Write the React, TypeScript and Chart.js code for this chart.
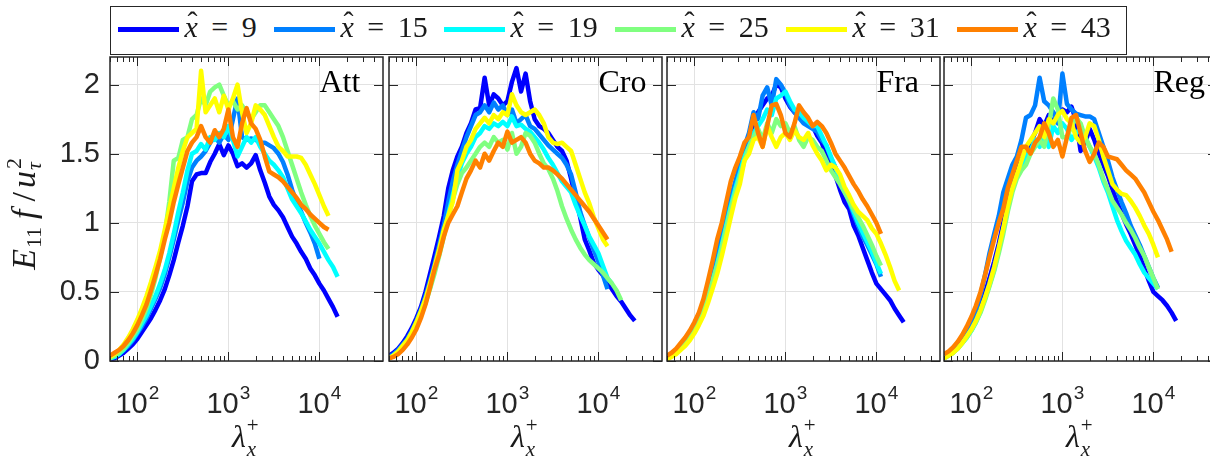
import React, { useEffect, useRef } from 'react';
import { Chart, registerables } from 'chart.js';
Chart.register(...registerables);

// ---------------- data ----------------
// common lambda_x^+ sampling grid (0.05 decade steps, 10^1.70 ... 10^4.40)
const LAMBDA = [50.1, 56.2, 63.1, 70.8, 79.4, 89.1, 100, 112, 126, 141, 158, 178, 200, 224, 251, 282, 316, 355, 398, 447, 501, 562, 631, 708, 794, 891, 1000, 1122, 1259, 1413, 1585, 1778, 1995, 2239, 2512, 2818, 3162, 3548, 3981, 4467, 5012, 5623, 6310, 7079, 7943, 8913, 10000, 11220, 12589, 14125, 15849, 17783, 19953, 22387, 25119];

const SERIES_LABELS = ['9', '15', '19', '25', '31', '43'];
const SERIES_COLORS = ['#0000ff', '#0080ff', '#00ffff', '#80ff80', '#ffff00', '#ff8000'];
const PANEL_NAMES = ['Att', 'Cro', 'Fra', 'Reg'];
const Y_TICKS = [0, 0.5, 1, 1.5, 2];
const Y_TICK_LABELS = ['0', '0.5', '1', '1.5', '2'];
const X_MAJOR = [100, 1000, 10000];
const X_TICK_EXP = ['2', '3', '4'];

// Att
const ATT_9 = [0.01,0.02,0.04,0.06,0.09,0.12,0.16,0.21,0.26,0.31, 0.37,0.44,0.52,0.62,0.73,0.86,0.98,1.12,1.30,1.35, 1.36,1.36,1.44,1.50,1.57,1.49,1.56,1.50,1.41,1.43, 1.40,1.43,1.49,1.38,1.29,1.19,1.13,1.09,1.04,0.97, 0.90,0.85,0.79,0.74,0.67,0.62,0.56,0.51,0.45,0.39, 0.32];
const ATT_15 = [0.02,0.03,0.05,0.08,0.11,0.15,0.20,0.25,0.31,0.38, 0.45,0.53,0.63,0.75,0.88,1.02,1.15,1.30,1.40,1.45, 1.48,1.52,1.58,1.62,1.58,1.64,1.60,1.75,1.90,1.62, 1.60,1.61,1.60,1.58,1.58,1.56,1.54,1.50,1.44,1.35, 1.24,1.15,1.08,1.00,0.93,0.85,0.74];
const ATT_19 = [0.02,0.03,0.05,0.08,0.12,0.16,0.21,0.27,0.33,0.40, 0.47,0.56,0.66,0.78,0.92,1.08,1.22,1.38,1.50,1.52, 1.57,1.53,1.62,1.60,1.65,1.62,1.70,1.60,1.48,1.55, 1.62,1.58,1.62,1.55,1.50,1.45,1.42,1.38,1.33,1.25, 1.17,1.12,1.07,1.01,0.95,0.90,0.85,0.79,0.73,0.68, 0.61];
const ATT_25 = [0.02,0.04,0.06,0.09,0.13,0.18,0.23,0.30,0.38,0.48, 0.60,0.75,0.92,1.15,1.45,1.47,1.60,1.62,1.75,1.78, 1.90,1.85,1.95,1.98,2.00,1.92,1.85,1.88,1.82,1.85, 1.80,1.75,1.80,1.85,1.85,1.80,1.75,1.70,1.62,1.52, 1.42,1.32,1.22,1.13,1.05,0.98,0.92,0.86,0.81];
const ATT_31 = [0.03,0.05,0.08,0.12,0.17,0.23,0.30,0.38,0.47,0.57, 0.68,0.80,0.95,1.10,1.25,1.40,1.52,1.62,1.65,1.68, 2.10,1.80,1.85,1.90,1.80,1.92,1.82,1.90,2.00,1.80, 1.65,1.72,1.85,1.82,1.78,1.70,1.62,1.55,1.52,1.48, 1.48,1.48,1.47,1.42,1.35,1.28,1.20,1.12,1.05];
const ATT_43 = [0.04,0.06,0.08,0.11,0.15,0.20,0.26,0.33,0.41,0.51, 0.62,0.74,0.88,1.00,1.15,1.28,1.40,1.52,1.58,1.62, 1.70,1.62,1.58,1.67,1.62,1.68,1.82,1.62,1.55,1.72, 1.83,1.72,1.68,1.60,1.48,1.37,1.35,1.33,1.30,1.26, 1.22,1.18,1.13,1.10,1.06,1.03,1.00,0.97,0.95];

// Cro
const CRO_9 = [0.04,0.06,0.09,0.13,0.18,0.24,0.31,0.39,0.50,0.63, 0.76,0.90,1.05,1.25,1.38,1.48,1.55,1.65,1.72,1.82, 1.83,2.05,1.85,1.93,1.90,1.85,1.88,2.02,2.12,1.95, 2.08,1.88,1.75,1.70,1.68,1.65,1.60,1.55,1.52,1.45, 1.32,1.18,1.04,0.88,0.80,0.71,0.66,0.62,0.57,0.52, 0.47,0.43,0.38,0.33,0.29];
const CRO_15 = [0.03,0.05,0.08,0.12,0.16,0.22,0.29,0.37,0.47,0.58, 0.70,0.84,0.98,1.15,1.30,1.42,1.52,1.62,1.70,1.78, 1.80,1.85,1.80,1.87,1.82,1.85,1.78,1.82,1.72,1.75, 1.78,1.70,1.68,1.64,1.60,1.56,1.53,1.50,1.47,1.42, 1.35,1.22,1.08,0.98,0.89,0.80,0.72,0.62,0.52];
const CRO_19 = [0.02,0.04,0.07,0.10,0.15,0.20,0.27,0.34,0.43,0.53, 0.65,0.78,0.92,1.06,1.20,1.33,1.43,1.50,1.55,1.62, 1.65,1.70,1.68,1.72,1.70,1.73,1.70,1.77,1.70,1.71, 1.68,1.66,1.62,1.58,1.53,1.47,1.42,1.36,1.30,1.26, 1.22,1.13,1.05,0.98,0.90,0.84,0.78,0.69,0.60,0.56];
const CRO_25 = [0.02,0.04,0.06,0.09,0.14,0.19,0.26,0.33,0.42,0.52, 0.63,0.76,0.90,1.04,1.17,1.28,1.36,1.40,1.45,1.50, 1.55,1.58,1.55,1.62,1.58,1.60,1.53,1.65,1.50,1.55, 1.65,1.63,1.58,1.50,1.43,1.39,1.32,1.23,1.12,1.03, 0.95,0.88,0.82,0.77,0.73,0.70,0.67,0.64,0.60,0.56, 0.51,0.44];
const CRO_31 = [0.02,0.04,0.07,0.11,0.15,0.21,0.28,0.36,0.45,0.56, 0.68,0.81,0.95,1.05,1.15,1.38,1.45,1.55,1.60,1.68, 1.72,1.76,1.72,1.78,1.75,1.80,1.78,1.93,1.85,1.80, 1.78,1.80,1.82,1.78,1.72,1.62,1.58,1.57,1.58,1.55, 1.52,1.42,1.32,1.22,1.14,1.04,0.96,0.88,0.83];
const CRO_43 = [0.02,0.03,0.05,0.08,0.12,0.17,0.23,0.31,0.41,0.53, 0.66,0.77,0.90,1.00,1.06,1.12,1.22,1.32,1.38,1.45, 1.40,1.50,1.45,1.52,1.58,1.55,1.66,1.58,1.60,1.62, 1.58,1.50,1.45,1.43,1.40,1.40,1.38,1.35,1.32,1.28, 1.24,1.20,1.16,1.12,1.08,1.03,0.98,0.93,0.88];

// Fra
const FRA_9 = [0.03,0.05,0.08,0.11,0.15,0.20,0.26,0.32,0.40,0.49, 0.60,0.72,0.85,1.00,1.12,1.25,1.38,1.50,1.60,1.72, 1.80,1.85,1.90,1.92,2.00,1.98,1.90,1.84,1.80,1.77, 1.74,1.72,1.70,1.63,1.58,1.49,1.40,1.34,1.24,1.15, 1.10,0.98,0.91,0.82,0.73,0.64,0.56,0.52,0.48,0.44, 0.38,0.33,0.28];
const FRA_15 = [0.03,0.05,0.08,0.12,0.16,0.21,0.27,0.34,0.42,0.52, 0.63,0.76,0.90,1.05,1.18,1.30,1.42,1.55,1.65,1.80, 1.75,1.92,1.98,1.85,2.04,2.00,1.94,1.85,1.80,1.76, 1.72,1.70,1.68,1.66,1.60,1.56,1.47,1.40,1.31,1.23, 1.15,1.06,0.98,0.90,0.84,0.77,0.70,0.61];
const FRA_19 = [0.02,0.04,0.07,0.10,0.14,0.19,0.25,0.31,0.39,0.48, 0.58,0.70,0.84,0.98,1.12,1.25,1.36,1.48,1.55,1.65, 1.70,1.75,1.82,1.78,1.90,1.92,1.95,1.88,1.82,1.80, 1.76,1.73,1.70,1.70,1.63,1.56,1.48,1.40,1.32,1.24, 1.16,1.08,1.00,0.93,0.86,0.79,0.71,0.63];
const FRA_25 = [0.02,0.04,0.07,0.10,0.14,0.19,0.24,0.30,0.38,0.47, 0.57,0.69,0.82,0.96,1.10,1.22,1.33,1.45,1.55,1.62, 1.68,1.60,1.72,1.65,1.75,1.70,1.72,1.65,1.70,1.60, 1.55,1.62,1.60,1.55,1.52,1.45,1.38,1.33,1.28,1.22, 1.16,1.10,1.04,0.98,0.91,0.84,0.76,0.69];
const FRA_31 = [0.01,0.03,0.05,0.08,0.11,0.15,0.20,0.26,0.33,0.42, 0.52,0.63,0.76,0.90,1.04,1.18,1.28,1.45,1.50,1.60, 1.62,1.55,1.70,1.62,1.55,1.62,1.65,1.60,1.67,1.62, 1.60,1.65,1.56,1.50,1.45,1.38,1.42,1.40,1.35,1.26, 1.20,1.13,1.08,1.05,1.02,0.96,0.92,0.85,0.77,0.68, 0.58,0.51];
const FRA_43 = [0.04,0.06,0.09,0.13,0.17,0.22,0.28,0.35,0.45,0.58, 0.72,0.88,1.00,1.15,1.30,1.40,1.48,1.58,1.62,1.78, 1.65,1.55,1.70,1.85,1.86,1.78,1.65,1.62,1.72,1.85, 1.80,1.76,1.70,1.73,1.70,1.65,1.58,1.50,1.45,1.40, 1.34,1.28,1.23,1.17,1.12,1.06,1.00,0.92];

// Reg
const REG_9 = [0.03,0.05,0.08,0.11,0.15,0.20,0.25,0.32,0.40,0.49, 0.60,0.72,0.85,1.00,1.15,1.25,1.38,1.45,1.52,1.58, 1.65,1.75,1.70,1.78,1.72,1.80,1.82,1.80,1.84,1.74, 1.52,1.58,1.68,1.60,1.50,1.42,1.34,1.24,1.15,1.07, 0.99,0.92,0.84,0.76,0.67,0.58,0.50,0.47,0.44,0.40, 0.35,0.29];
const REG_15 = [0.03,0.05,0.08,0.12,0.17,0.22,0.28,0.37,0.48,0.62, 0.78,0.92,1.05,1.22,1.32,1.42,1.48,1.60,1.76,1.78, 1.85,2.05,1.88,1.85,1.80,1.72,2.08,1.86,1.82,1.79, 1.78,1.77,1.77,1.75,1.65,1.55,1.45,1.33,1.24,1.15, 1.07,0.98,0.91,0.84,0.76,0.68,0.60,0.53];
const REG_19 = [0.02,0.04,0.06,0.09,0.13,0.17,0.22,0.28,0.36,0.45, 0.55,0.66,0.80,0.95,1.10,1.25,1.35,1.40,1.48,1.52, 1.60,1.55,1.65,1.55,1.70,1.65,1.72,1.68,1.60,1.65, 1.68,1.62,1.55,1.48,1.40,1.30,1.22,1.12,1.02,0.94, 0.87,0.82,0.77,0.70,0.64,0.60,0.56,0.52];
const REG_25 = [0.02,0.04,0.06,0.09,0.13,0.17,0.22,0.28,0.35,0.44, 0.54,0.65,0.78,0.92,1.08,1.22,1.32,1.38,1.42,1.50, 1.55,1.60,1.55,1.70,1.90,1.82,1.62,1.62,1.70,1.76, 1.72,1.62,1.55,1.50,1.42,1.32,1.24,1.16,1.11,1.06, 1.00,0.95,0.89,0.82,0.76,0.68,0.60,0.52];
const REG_31 = [0.02,0.04,0.06,0.09,0.13,0.18,0.23,0.29,0.37,0.46, 0.56,0.68,0.82,0.96,1.12,1.25,1.35,1.45,1.55,1.60, 1.65,1.70,1.62,1.75,1.72,1.78,1.81,1.75,1.72,1.62, 1.58,1.62,1.72,1.70,1.60,1.48,1.38,1.28,1.24,1.21, 1.20,1.16,1.11,1.05,0.98,0.92,0.84,0.75];
const REG_43 = [0.05,0.07,0.10,0.14,0.19,0.25,0.32,0.40,0.50,0.62, 0.75,0.88,1.00,1.10,1.25,1.35,1.45,1.55,1.55,1.50, 1.58,1.62,1.72,1.65,1.55,1.60,1.48,1.62,1.76,1.78, 1.65,1.52,1.44,1.50,1.58,1.55,1.48,1.47,1.46,1.42, 1.38,1.35,1.32,1.27,1.22,1.15,1.08,1.02,0.95,0.88, 0.79];

const PANEL_SERIES = [
  [ATT_9, ATT_15, ATT_19, ATT_25, ATT_31, ATT_43],
  [CRO_9, CRO_15, CRO_19, CRO_25, CRO_31, CRO_43],
  [FRA_9, FRA_15, FRA_19, FRA_25, FRA_31, FRA_43],
  [REG_9, REG_15, REG_19, REG_25, REG_31, REG_43],
];

// ---------------- layout / style ----------------
const PANEL_LEFT = [110, 389, 667, 944];
const PLOT_W = 273;
const Y_AXIS_W = 110;
const PAD = { left: 0, right: 12, top: 57, bottom: 97 };
const CANVAS_W = Y_AXIS_W + PLOT_W + PAD.right;
const CANVAS_H = 458;
const AXIS_COLOR = '#262626';
const GRID_COLOR = '#e2e2e2';
const SANS = '"Liberation Sans", Arial, sans-serif';
const SERIF = '"Liberation Serif", "Times New Roman", serif';
const LEGEND_LINE_X = [118, 274, 444, 615, 786, 957];

function minorTickValues(): number[] {
  const out: number[] = [];
  for (const d of [10, 100, 1000, 10000]) {
    for (let m = 1; m <= 9; m++) {
      const v = m * d;
      if (v >= 50 && v < 50000) out.push(v);
    }
  }
  return out;
}

function makeDecor(k: number) {
  return {
    id: 'decor' + k,
    afterDraw(chart: any) {
      const { ctx, chartArea: a, scales } = chart;
      const xs = scales.x;
      const ys = scales.y;
      ctx.save();
      // ticks (inside, on all four sides)
      ctx.strokeStyle = AXIS_COLOR;
      ctx.lineWidth = 1;
      ctx.beginPath();
      for (const v of Y_TICKS) {
        const y = Math.round(ys.getPixelForValue(v)) + 0.5;
        ctx.moveTo(a.left, y); ctx.lineTo(a.left + 9, y);
        ctx.moveTo(a.right, y); ctx.lineTo(a.right - 9, y);
      }
      for (const v of minorTickValues()) {
        const x = Math.round(xs.getPixelForValue(v)) + 0.5;
        const len = X_MAJOR.includes(v) ? 9 : 5;
        ctx.moveTo(x, a.bottom); ctx.lineTo(x, a.bottom - len);
        ctx.moveTo(x, a.top); ctx.lineTo(x, a.top + len);
      }
      ctx.stroke();
      // box
      ctx.lineWidth = 1.5;
      ctx.strokeRect(a.left, a.top, a.right - a.left, a.bottom - a.top);

      // x tick labels 10^n
      ctx.fillStyle = AXIS_COLOR;
      ctx.textAlign = 'left';
      ctx.textBaseline = 'alphabetic';
      X_MAJOR.forEach((v, i) => {
        const x = xs.getPixelForValue(v);
        ctx.font = `29px ${SANS}`;
        const w1 = ctx.measureText('10').width;
        ctx.font = `19px ${SANS}`;
        const w2 = ctx.measureText(X_TICK_EXP[i]).width;
        const x0 = x - (w1 + w2 + 1) / 2;
        ctx.font = `29px ${SANS}`;
        ctx.fillText('10', x0, 413);
        ctx.font = `19px ${SANS}`;
        ctx.fillText(X_TICK_EXP[i], x0 + w1 + 1, 399);
      });

      // x title lambda_x^+
      ctx.fillStyle = '#1a1a1a';
      const cx = (a.left + a.right) / 2 - 3;
      ctx.font = `italic 32px ${SERIF}`;
      const wl = ctx.measureText('λ').width;
      ctx.font = `italic 21px ${SERIF}`;
      const ws = ctx.measureText('x').width;
      const lx = cx - (wl + ws) / 2;
      ctx.font = `italic 32px ${SERIF}`;
      ctx.fillText('λ', lx, 447);
      ctx.font = `italic 21px ${SERIF}`;
      ctx.fillText('x', lx + wl + 1, 456);
      ctx.font = `21px ${SERIF}`;
      ctx.fillText('+', lx + wl + 1, 432);

      // panel name
      ctx.fillStyle = '#000';
      ctx.font = `32px ${SERIF}`;
      ctx.fillText(PANEL_NAMES[k], xs.getPixelForValue(10000), ys.getPixelForValue(2) + 7);

      // y title on first panel
      if (k === 0) {
        ctx.save();
        ctx.translate(35, 216);
        ctx.rotate(-Math.PI / 2);
        ctx.fillStyle = '#1a1a1a';
        const pieces: { t: string; f: string; dy: number; gap: number }[] = [
          { t: 'E', f: `italic 34px ${SERIF}`, dy: 0, gap: 0 },
          { t: '11', f: `22px ${SERIF}`, dy: 6, gap: 1 },
          { t: 'f', f: `italic 34px ${SERIF}`, dy: 0, gap: 8 },
          { t: '/', f: `34px ${SERIF}`, dy: 0, gap: 8 },
          { t: 'u', f: `italic 34px ${SERIF}`, dy: 0, gap: 4 },
          { t: 'τ', f: `italic 22px ${SERIF}`, dy: 6, gap: 1 },
        ];
        let total = 0;
        const widths = pieces.map((p) => {
          ctx.font = p.f;
          const w = ctx.measureText(p.t).width;
          total += w + p.gap;
          return w;
        });
        let x = -total / 2;
        pieces.forEach((p, i) => {
          x += p.gap;
          ctx.font = p.f;
          ctx.fillText(p.t, x, p.dy);
          if (p.t === 'τ') {
            ctx.font = `22px ${SERIF}`;
            ctx.fillText('2', x + 1, -14);
          }
          x += widths[i];
        });
        ctx.restore();
      }
      ctx.restore();
    },
  };
}

function Panel({ k }: { k: number }) {
  const ref = useRef<HTMLCanvasElement>(null);
  useEffect(() => {
    const series = PANEL_SERIES[k];
    const chart = new Chart(ref.current as HTMLCanvasElement, {
      type: 'line',
      data: {
        datasets: series.map((ys, s) => ({
          label: SERIES_LABELS[s],
          data: ys.map((y, i) => ({ x: LAMBDA[i], y })),
          borderColor: SERIES_COLORS[s],
          backgroundColor: SERIES_COLORS[s],
          borderWidth: 4.5,
          pointRadius: 0,
          fill: false,
          tension: 0,
          borderJoinStyle: 'round' as const,
          borderCapStyle: 'butt' as const,
          order: 5 - s,
        })),
      },
      options: {
        animation: false,
        responsive: false,
        maintainAspectRatio: false,
        devicePixelRatio: 1,
        events: [],
        layout: { padding: PAD },
        plugins: { legend: { display: false }, tooltip: { enabled: false } },
        scales: {
          x: {
            type: 'logarithmic',
            min: 50,
            max: 50000,
            afterBuildTicks: (s: any) => { s.ticks = X_MAJOR.map((v) => ({ value: v })); },
            afterFit: (s: any) => { s.height = 0; },
            grid: { color: GRID_COLOR, lineWidth: 1, drawTicks: false },
            border: { display: false },
            ticks: { display: false },
          },
          y: {
            type: 'linear',
            min: 0,
            max: 2.2,
            afterBuildTicks: (s: any) => { s.ticks = Y_TICKS.map((v) => ({ value: v })); },
            afterFit: (s: any) => { s.width = Y_AXIS_W; },
            grid: { color: GRID_COLOR, lineWidth: 1, drawTicks: false },
            border: { display: false },
            ticks: {
              display: k === 0,
              color: AXIS_COLOR,
              padding: 10,
              autoSkip: false,
              font: { family: SANS, size: 29 },
              callback: (v: any) => {
                const i = Y_TICKS.indexOf(Number(v));
                return i >= 0 ? Y_TICK_LABELS[i] : '';
              },
            },
          },
        },
      } as any,
      plugins: [makeDecor(k)],
    });
    return () => chart.destroy();
  }, [k]);
  return (
    <canvas
      ref={ref}
      width={CANVAS_W}
      height={CANVAS_H}
      style={{ position: 'absolute', left: PANEL_LEFT[k] - Y_AXIS_W, top: 0, width: CANVAS_W, height: CANVAS_H }}
    />
  );
}

function Legend() {
  const boxLeft = 110;
  const border = 1.5;
  return (
    <div
      style={{
        position: 'absolute', left: boxLeft, top: 6, width: 1017, height: 49,
        border: `${border}px solid ${AXIS_COLOR}`, boxSizing: 'border-box', background: '#fff',
      }}
    >
      {SERIES_LABELS.map((lab, s) => (
        <React.Fragment key={s}>
          <div
            style={{
              position: 'absolute', left: LEGEND_LINE_X[s] - boxLeft - border, top: 30 - 6 - border - 2.5,
              width: 61, height: 5, background: SERIES_COLORS[s],
            }}
          />
          <div
            style={{
              position: 'absolute', left: LEGEND_LINE_X[s] - boxLeft - border + 67, top: 5.4,
              fontFamily: SERIF, fontSize: 30, lineHeight: '30px', color: '#1a1a1a', whiteSpace: 'nowrap',
            }}
          >
            <span style={{ position: 'relative', fontStyle: 'italic' }}>
              x
              <span style={{ position: 'absolute', left: '0.1em', top: '-0.12em', fontStyle: 'normal' }}>ˆ</span>
            </span>
            <span style={{ margin: '0 0.45em' }}>=</span>
            <span>{lab}</span>
          </div>
        </React.Fragment>
      ))}
    </div>
  );
}

export default function App() {
  return (
    <div style={{ position: 'absolute', left: 0, top: 0, width: 1210, height: 458, overflow: 'hidden', background: '#fff' }}>
      {[0, 1, 2, 3].map((k) => (
        <Panel key={k} k={k} />
      ))}
      <Legend />
    </div>
  );
}
